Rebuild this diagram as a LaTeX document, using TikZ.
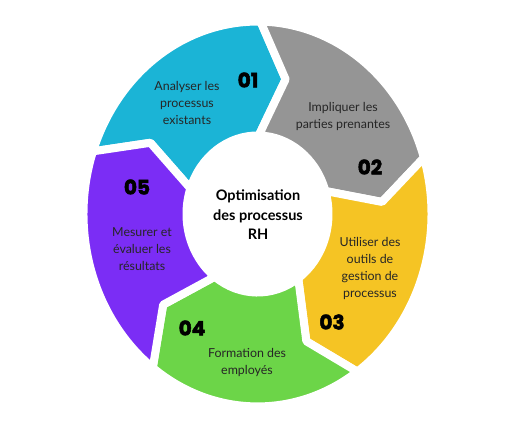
\documentclass[tikz,border=0pt]{standalone}
\usepackage{fontspec}
\setmainfont{Lato}
\newfontfamily\numfont{Poppins}[BoldFeatures={FakeBold=2.5}]
\definecolor{cblue}{RGB}{27,180,214}
\definecolor{cgray}{RGB}{149,149,149}
\definecolor{cyellow}{RGB}{245,196,36}
\definecolor{cgreen}{RGB}{108,213,72}
\definecolor{cpurple}{RGB}{123,45,245}
\tikzset{
	segtxt/.style={align=center,text=black!85,font=\fontsize{12.4}{17}\selectfont},
	numtxt/.style={font=\numfont\bfseries\fontsize{20}{20}\selectfont},
	titletxt/.style={align=center,font=\bfseries\fontsize{14.5}{19.5}\selectfont}
}
% one arrow of the ring: start angle, colour
\newcommand{\ringpart}[2]{%
	\draw [line width=8pt,draw=white,fill=#2] (#1:174) arc [start angle=#1,end angle=#1-72,radius=174]
		-- (#1-84:125) -- (#1-72:71) arc [start angle=#1-72,end angle=#1,radius=71]
		-- (#1-12:125) -- cycle;}

\begin{document}
\begin{tikzpicture}[line cap=round,line join=round,x=1pt,y=1pt]
		\useasboundingbox (0,0) rectangle (517,431);
		\begin{scope}[shift={(257.5,217)},yscale=1.106]
			\ringpart{161}{cblue}
			\ringpart{89}{cgray}
			\ringpart{17}{cyellow}
			\ringpart{-55}{cgreen}
			\ringpart{-127}{cpurple}
		\end{scope}
		\node[titletxt] (title) at (258,216) {Optimisation\\des processus\\RH};
		\node[segtxt] (analyse) at (187,328) {Analyser les\\processus\\existants};
		\node[numtxt] (n01) at (248,351) {01};
		\node[segtxt] (impliquer) at (343,314) {Impliquer les\\parties prenantes};
		\node[numtxt] (n02) at (370,264) {02};
		\node[segtxt] (outils) at (370,163) {Utiliser des\\outils de\\gestion de\\processus};
		\node[numtxt] (n03) at (332,109) {03};
		\node[segtxt] (formation) at (247,69) {Formation des\\employés};
		\node[numtxt] (n04) at (192,103) {04};
		\node[segtxt] (mesurer) at (142,182) {Mesurer et\\évaluer les\\résultats};
		\node[numtxt] (n05) at (137,244) {05};
	\end{tikzpicture}
\end{document}
